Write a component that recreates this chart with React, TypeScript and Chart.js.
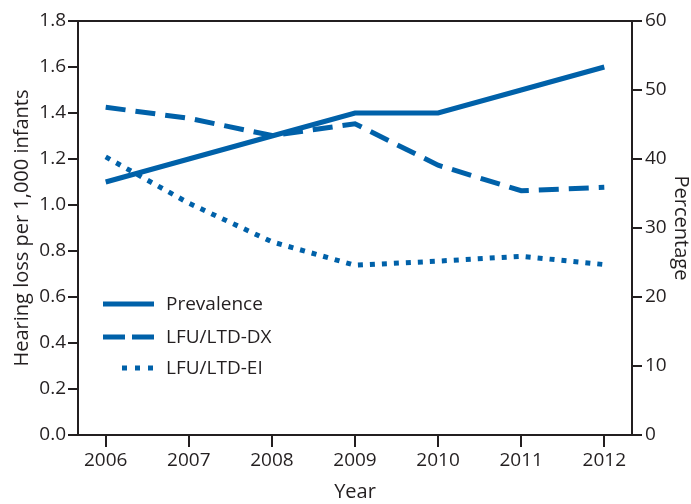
import React, { useEffect, useRef } from "react";
import { Chart, registerables } from "chart.js";

Chart.register(...registerables);

const years = [2006, 2007, 2008, 2009, 2010, 2011, 2012];
const prevalence = [1.1, 1.2, 1.3, 1.4, 1.4, 1.5, 1.6];
const lfuDx = [47.5, 45.9, 43.4, 45.1, 39.1, 35.4, 35.9];
const lfuEi = [40.3, 33.6, 28.0, 24.6, 25.2, 25.9, 24.7];
const leftTicks = [0, 0.2, 0.4, 0.6, 0.8, 1.0, 1.2, 1.4, 1.6, 1.8];
const rightTicks = [0, 10, 20, 30, 40, 50, 60];
const seriesNames = ["Prevalence", "LFU/LTD-DX", "LFU/LTD-EI"];

const BLUE = "#0061a9";
const INK = "#231f20";
const FONT = "'Open Sans', 'Noto Sans', sans-serif";

const legendPlugin = {
  id: "customLegend",
  afterDatasetsDraw(chart: any) {
    const { ctx, chartArea } = chart;
    const x0 = chartArea.left;
    const y0 = chartArea.top;
    const rows = [
      { dash: [], from: 25, y: 283 },
      { dash: [22, 7], from: 25, y: 316 },
      { dash: [5, 8], from: 44, y: 347 },
    ];
    ctx.save();
    rows.forEach((r, i) => {
      ctx.beginPath();
      ctx.setLineDash(r.dash);
      ctx.lineWidth = 5;
      ctx.lineCap = "butt";
      ctx.strokeStyle = BLUE;
      ctx.moveTo(x0 + r.from, y0 + r.y);
      ctx.lineTo(x0 + 76, y0 + r.y);
      ctx.stroke();
      ctx.setLineDash([]);
      ctx.fillStyle = INK;
      ctx.font = `19px ${FONT}`;
      ctx.textBaseline = "middle";
      ctx.textAlign = "left";
      ctx.fillText(seriesNames[i], x0 + 88, y0 + r.y + 1);
    });
    ctx.restore();
  },
};

const framePlugin = {
  id: "frameTop",
  afterDraw(chart: any) {
    const { ctx, chartArea } = chart;
    ctx.save();
    ctx.strokeStyle = INK;
    ctx.lineWidth = 2;
    ctx.beginPath();
    ctx.moveTo(chartArea.left - 1, chartArea.top);
    ctx.lineTo(chartArea.right + 1, chartArea.top);
    ctx.stroke();
    ctx.restore();
  },
};

export default function App() {
  const ref = useRef<HTMLCanvasElement | null>(null);
  useEffect(() => {
    if (!ref.current) return;
    const tickFont = { family: FONT, size: 19 };
    const titleFont = { family: FONT, size: 20 };
    const chart = new Chart(ref.current, {
      type: "line",
      data: {
        datasets: [
          {
            label: seriesNames[0],
            data: years.map((y, i) => ({ x: y, y: prevalence[i] })),
            borderColor: BLUE,
            borderWidth: 5,
            pointRadius: 0,
            yAxisID: "y",
            borderCapStyle: "butt",
          },
          {
            label: seriesNames[1],
            data: years.map((y, i) => ({ x: y, y: lfuDx[i] })),
            borderColor: BLUE,
            borderWidth: 5,
            borderDash: [20, 10],
            pointRadius: 0,
            yAxisID: "y1",
            borderCapStyle: "butt",
          },
          {
            label: seriesNames[2],
            data: years.map((y, i) => ({ x: y, y: lfuEi[i] })),
            borderColor: BLUE,
            borderWidth: 5,
            borderDash: [5, 7],
            pointRadius: 0,
            yAxisID: "y1",
            borderCapStyle: "butt",
          },
        ],
      },
      options: {
        animation: false,
        responsive: false,
        devicePixelRatio: 1,
        layout: { padding: { top: 21, left: 0, right: 0, bottom: 0 } },
        plugins: { legend: { display: false }, tooltip: { enabled: false } },
        scales: {
          x: {
            type: "linear",
            min: years[0] - 1 / 3,
            max: years[years.length - 1] + 1 / 3,
            afterBuildTicks: (s: any) => {
              s.ticks = years.map((v) => ({ value: v }));
            },
            afterFit: (s: any) => {
              s.height = 69;
            },
            grid: { drawOnChartArea: false, drawTicks: true, tickLength: 12, color: INK, lineWidth: 2 },
            border: { display: true, color: INK, width: 2 },
            ticks: { color: INK, font: tickFont, padding: 2, maxRotation: 0, callback: (v: any) => String(v) },
            title: { display: true, text: "Year", color: INK, font: titleFont, padding: { top: 0, bottom: 0 } },
          },
          y: {
            type: "linear",
            position: "left",
            min: 0,
            max: 1.8,
            afterBuildTicks: (s: any) => {
              s.ticks = leftTicks.map((v) => ({ value: v }));
            },
            afterFit: (s: any) => {
              s.width = 78;
            },
            grid: { drawOnChartArea: false, drawTicks: true, tickLength: 10, color: INK, lineWidth: 2 },
            border: { display: true, color: INK, width: 2 },
            ticks: { color: INK, font: tickFont, padding: 2, callback: (v: any) => Number(v).toFixed(1) },
            title: {
              display: true,
              text: "Hearing loss per 1,000 infants",
              color: INK,
              font: titleFont,
              padding: { top: 10, bottom: 0 },
            },
          },
          y1: {
            type: "linear",
            position: "right",
            min: 0,
            max: 60,
            afterBuildTicks: (s: any) => {
              s.ticks = rightTicks.map((v) => ({ value: v }));
            },
            afterFit: (s: any) => {
              s.width = 59;
            },
            grid: { drawOnChartArea: false, drawTicks: true, tickLength: 10, color: INK, lineWidth: 2 },
            border: { display: true, color: INK, width: 2 },
            ticks: { color: INK, font: tickFont, padding: 3, callback: (v: any) => String(v) },
            title: {
              display: true,
              text: "Percentage",
              color: INK,
              font: { family: FONT, size: 20, lineHeight: 1 },
              padding: { top: 0, bottom: 0 },
            },
          },
        },
      },
      plugins: [legendPlugin, framePlugin],
    } as any);
    return () => chart.destroy();
  }, []);
  return (
    <div style={{ position: "fixed", left: 0, top: 0, width: 691, height: 504, background: "#fff" }}>
      <canvas ref={ref} width={691} height={504} style={{ width: 691, height: 504, display: "block" }} />
    </div>
  );
}
